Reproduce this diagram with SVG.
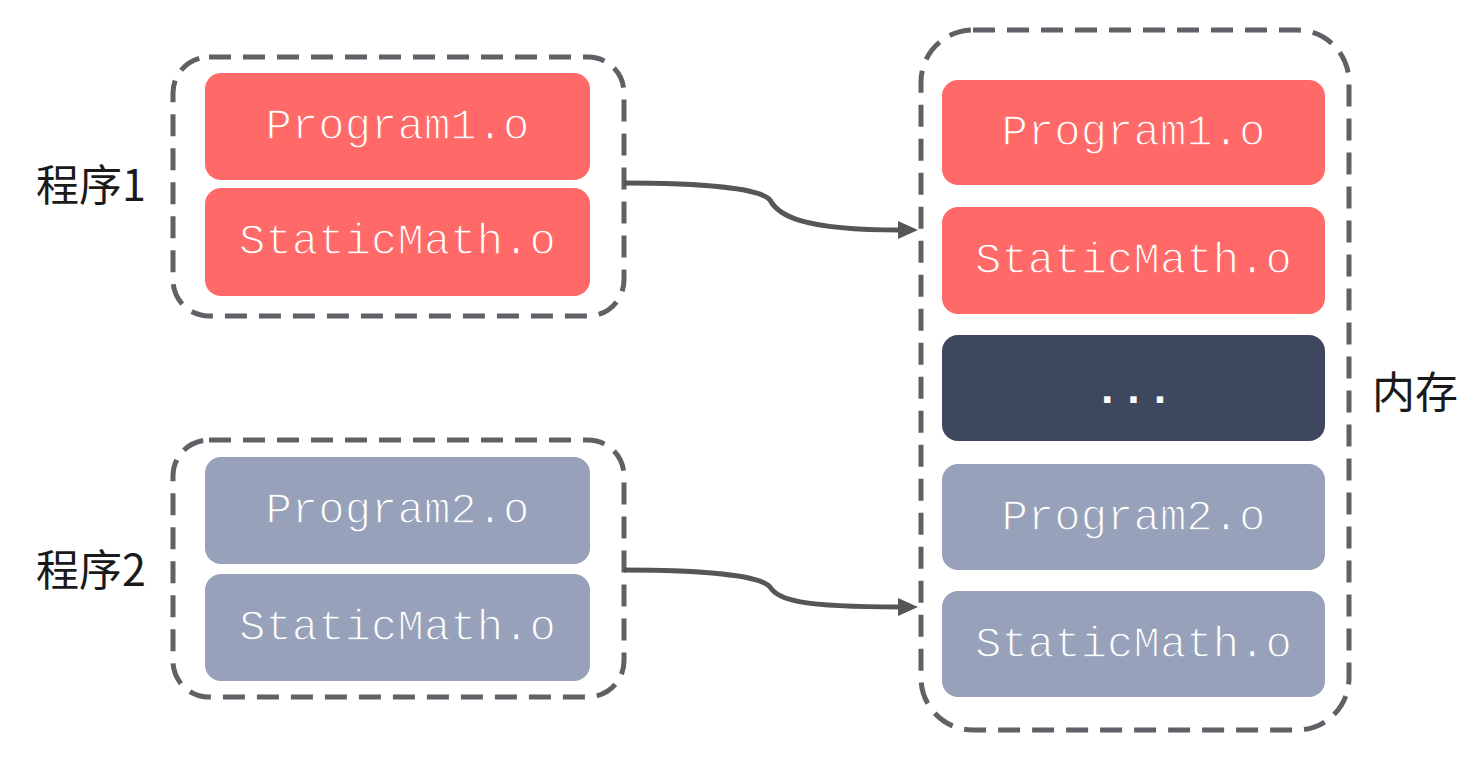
<svg xmlns="http://www.w3.org/2000/svg" width="1474" height="768" viewBox="0 0 1474 768">
<defs>
<style>
.frame{fill:none;stroke:#606166;stroke-width:5;stroke-dasharray:22 12}
.red{fill:#ff6a69}
.gray{fill:#97a2ba}
.dark{fill:#3d475e}
.t{font-family:"Liberation Mono","Courier New",monospace;font-size:44px;fill:#ffffff;text-anchor:middle;stroke-width:1.3}
.tr{stroke:#ff6a69}
.tg{stroke:#97a2ba}
.td{stroke:none;font-weight:bold}
.lbl{font-family:"Noto Sans CJK SC","Noto Sans",sans-serif;font-size:43px;fill:#1a1a1a}
.conn{fill:none;stroke:#555658;stroke-width:5}
</style>
<marker id="ah" markerWidth="20" markerHeight="18" refX="2" refY="9" orient="auto" markerUnits="userSpaceOnUse">
<path d="M0,0 L20,9 L0,18 z" fill="#555658"/>
</marker>
</defs>
<rect width="1474" height="768" fill="#ffffff"/>
<g id="prog1">
<rect class="frame" x="173" y="57" width="451" height="259" rx="36"/>
<g id="p1-program"><rect class="red" x="205" y="73" width="385" height="107" rx="16"/><text class="t tr" x="397.5" y="139">Program1.o</text></g>
<g id="p1-static"><rect class="red" x="205" y="188" width="385" height="108" rx="16"/><text class="t tr" x="397.5" y="254">StaticMath.o</text></g>
<text class="lbl" x="36" y="201">程序1</text>
</g>
<g id="prog2">
<rect class="frame" x="173" y="440" width="451" height="257" rx="36"/>
<g id="p2-program"><rect class="gray" x="205" y="457" width="385" height="107" rx="16"/><text class="t tg" x="397.5" y="523">Program2.o</text></g>
<g id="p2-static"><rect class="gray" x="205" y="574" width="385" height="107" rx="16"/><text class="t tg" x="397.5" y="640">StaticMath.o</text></g>
<text class="lbl" x="36" y="586">程序2</text>
</g>
<g id="memory">
<rect class="frame" x="921" y="30" width="428" height="700" rx="52"/>
<g id="m-program1"><rect class="red" x="942" y="80" width="383" height="105" rx="16"/><text class="t tr" x="1133.5" y="145">Program1.o</text></g>
<g id="m-static1"><rect class="red" x="942" y="207" width="383" height="107" rx="16"/><text class="t tr" x="1133.5" y="273">StaticMath.o</text></g>
<g id="m-dots"><rect class="dark" x="942" y="335" width="383" height="106" rx="16"/><text class="t td" x="1133.5" y="403">...</text></g>
<g id="m-program2"><rect class="gray" x="942" y="464" width="383" height="106" rx="16"/><text class="t tg" x="1133.5" y="530">Program2.o</text></g>
<g id="m-static2"><rect class="gray" x="942" y="591" width="383" height="106" rx="16"/><text class="t tg" x="1133.5" y="657">StaticMath.o</text></g>
<text class="lbl" x="1372" y="408">内存</text>
</g>
<g id="connectors">
<path class="conn" marker-end="url(#ah)" d="M624,183 C700,183 760,188 770,200 C778,215 800,230 900,230"/>
<path class="conn" marker-end="url(#ah)" d="M624,570 C700,570 760,575 770,587 C778,600 800,607 900,607"/>
</g>
</svg>
